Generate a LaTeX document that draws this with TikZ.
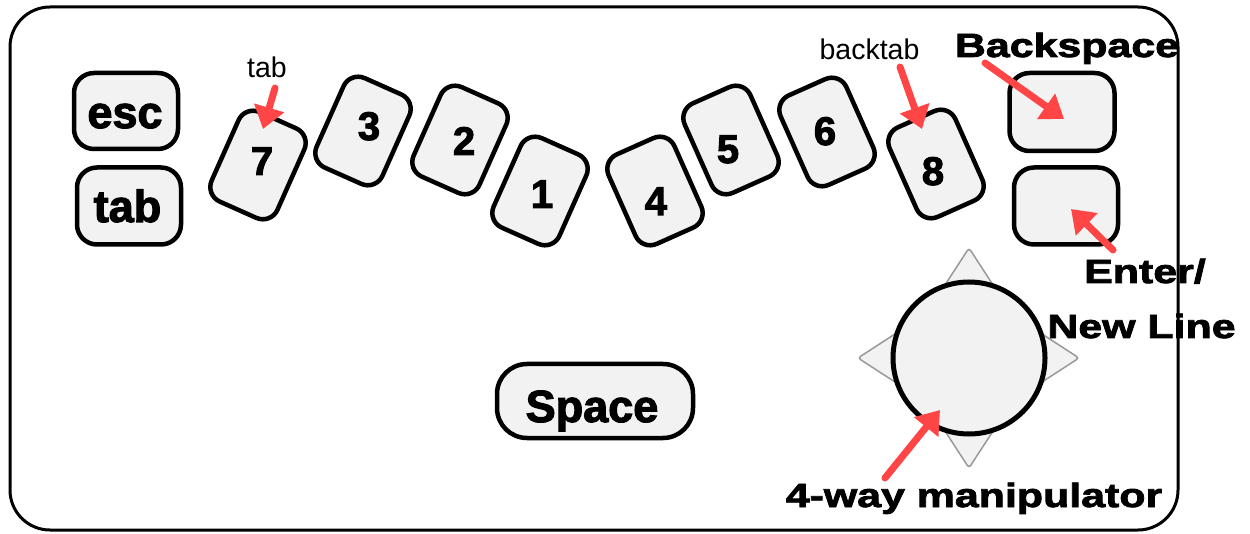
\documentclass[tikz,border=0pt]{standalone}
\usepackage{fontspec}
\setmainfont{Liberation Sans}
\newfontfamily\widefont[FakeStretch=1.28,FakeBold=2.5]{Liberation Sans}
\newfontfamily\keyfont[FakeBold=2.5]{Liberation Sans}
\usetikzlibrary{arrows.meta}
\definecolor{keyfill}{HTML}{F2F2F2}
\definecolor{arrowred}{HTML}{FF4545}
\begin{document}
\begin{tikzpicture}[x=1pt,y=-1pt,
  keybox/.style={draw=black, line width=4.5pt, fill=keyfill, rounded corners=16pt,
    minimum width=72pt, minimum height=98pt, inner sep=0pt},
  sqkey/.style={draw=black, line width=4.5pt, fill=keyfill, rounded corners=20pt, inner sep=0pt},
  keytext/.style={font=\fontsize{45}{50}\keyfont\bfseries, anchor=base, inner sep=0pt},
  digit/.style={font=\fontsize{40}{46}\keyfont\bfseries, anchor=base, inner sep=0pt},
  outer/.style={font=\fontsize{33.5}{40}\widefont\bfseries, anchor=base, inner sep=0pt},
  small/.style={font=\fontsize{28.5}{34}\selectfont, anchor=base, inner sep=0pt},
  redarrow/.style={draw=arrowred, line width=7pt, line cap=round,
    -{Triangle[length=22pt,width=30pt]}},
  spike/.style={draw=gray!80, line width=1.5pt, fill=keyfill, rounded corners=3pt}]
\useasboundingbox (0,0) rectangle (1250,534);
% outer frame
\draw[line width=3pt, rounded corners=40pt] (10,7) rectangle (1178,530);
% left keys
\node[sqkey, minimum width=104pt, minimum height=76pt] (esc) at (126,111) {};
\node[keytext] (esct) at (125,128) {esc};
\node[sqkey, minimum width=104pt, minimum height=77pt] (tabk) at (129,206) {};
\node[keytext] (tabt) at (127.5,222) {tab};
% arc of keys
\node[keybox, rotate=-24] (k7) at (258,165) {};
\node[digit] (k7t) at (262,175) {7};
\node[keybox, rotate=-24] (k3) at (363,131) {};
\node[digit] (k3t) at (369,140) {3};
\node[keybox, rotate=-24] (k2) at (460,140) {};
\node[digit] (k2t) at (464,155) {2};
\node[keybox, rotate=-24] (k1) at (540,191) {};
\node[digit] (k1t) at (542,208) {1};
\node[keybox, rotate=24] (k4) at (655,191) {};
\node[digit] (k4t) at (656,215) {4};
\node[keybox, rotate=24] (k5) at (731,140) {};
\node[digit] (k5t) at (728,163) {5};
\node[keybox, rotate=24] (k6) at (827,132) {};
\node[digit] (k6t) at (825,145) {6};
\node[keybox, rotate=24] (k8) at (936,164) {};
\node[digit] (k8t) at (933,185) {8};
% right keys
\node[sqkey, minimum width=105pt, minimum height=78pt] (bsk) at (1062,112) {};
\node[sqkey, minimum width=104pt, minimum height=77pt] (entk) at (1066,206) {};
% space
\node[sqkey, rounded corners=30pt, minimum width=196pt, minimum height=74pt] (space) at (595,401) {};
\node[keytext] (spacet) at (592,422) {Space};
% joystick
\draw[spike] (969,248) -- (1008,308) -- (930,308) -- cycle;
\draw[spike] (969,468) -- (1008,408) -- (930,408) -- cycle;
\draw[spike] (858,358) -- (918,319) -- (918,397) -- cycle;
\draw[spike] (1079,358) -- (1019,319) -- (1019,397) -- cycle;
\node[draw=black, circle, line width=5pt, fill=keyfill, minimum size=152pt, inner sep=0pt] (joy) at (969,358) {};
% labels
\node[small] (tabl) at (267,78) {tab};
\node[small] (backtabl) at (869.5,60) {backtab};
\node[outer] (bsl) at (1067,57) {Backspace};
\node[outer] (entl1) at (1145,283) {Enter/};
\node[outer] (entl2) at (1141.5,338) {New Line};
\node[outer] (manl) at (974,507) {4-way manipulator};
% arrows
\coordinate (a1s) at (275,88);   \coordinate (a1e) at (263,129);
\coordinate (a2s) at (900,67);   \coordinate (a2e) at (922,129);
\coordinate (a3s) at (985,63);   \coordinate (a3e) at (1064,119);
\coordinate (a4s) at (1113,250); \coordinate (a4e) at (1071,209);
\coordinate (a5s) at (885,478);  \coordinate (a5e) at (940,410);
\draw[redarrow] (a1s) -- (a1e);
\draw[redarrow] (a2s) -- (a2e);
\draw[redarrow] (a3s) -- (a3e);
\draw[redarrow] (a4s) -- (a4e);
\draw[redarrow] (a5s) -- (a5e);
\end{tikzpicture}
\end{document}
